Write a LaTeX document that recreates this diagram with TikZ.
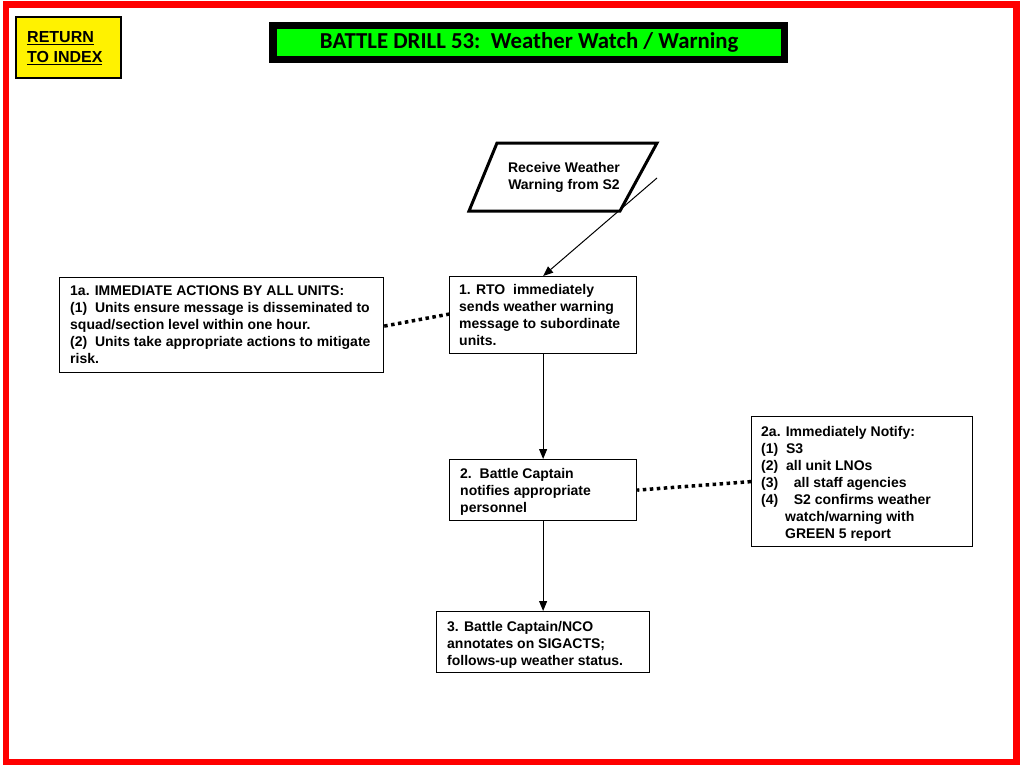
\documentclass[tikz,border=0pt]{standalone}
\usepackage{fontspec}
\setmainfont{Liberation Sans}
\newfontfamily\titlefont{Carlito}
\usetikzlibrary{arrows.meta}
\tikzset{
  box/.style={draw=black, line width=1.2pt, fill=white, inner sep=0pt, anchor=north west},
  txt/.style={anchor=north west, align=left, inner sep=0pt, font=\fontsize{14}{17}\selectfont\bfseries},
  flow/.style={draw=black, line width=1pt, -{Triangle[length=10pt,width=8pt]}},
  dots/.style={draw=black, line width=3.5pt, dash pattern=on 3.5pt off 3.5pt},
}
\begin{document}
\begin{tikzpicture}[x=1pt,y=-1pt]
\useasboundingbox (0,0) rectangle (1024,768);
\fill[white] (0,0) rectangle (1024,768);
% red frame
\draw[red, line width=6.5pt] (6,4.5) rectangle (1016.5,762);
% return box
\node[draw=black, line width=2pt, fill=yellow, minimum width=105pt, minimum height=61pt,
      anchor=north west, inner sep=0pt] (ret) at (15,16) {};
\node[anchor=west, align=left, font=\fontsize{16}{20}\selectfont\bfseries, inner sep=0pt]
  (rettxt) at (27,48.5) {\underline{RETURN}\\\underline{TO INDEX}};
% title
\node[fill=black, minimum width=519pt, minimum height=41pt, anchor=north west, inner sep=0pt]
  (titleback) at (269,22) {};
\node[fill=green, minimum width=504pt, minimum height=27pt, anchor=north west, inner sep=0pt,
      font=\titlefont\fontsize{22.8}{24}\selectfont\bfseries] (title) at (277,29)
  {BATTLE DRILL 53:\ \ Weather Watch / Warning};
% parallelogram
\draw[line width=3pt, line join=miter] (497,143) -- (657,143) -- (620,211) -- (469,211) -- cycle;
\node[align=center, font=\fontsize{14}{17}\selectfont\bfseries, inner sep=0pt] (recv) at (564,177)
  {Receive Weather\\Warning from S2};
\coordinate (recvout) at (657,178);
% box 1
\node[box, minimum width=187pt, minimum height=77pt] (b1) at (449,276) {};
\node[txt] (b1t) at (459,284.5) {1. RTO\ \ immediately\\sends weather warning\\message to subordinate\\units.};
% box 1a
\node[box, minimum width=324pt, minimum height=95pt] (b1a) at (59,277) {};
\node[txt] (b1at) at (70,285.5) {1a. IMMEDIATE ACTIONS BY ALL UNITS:\\(1)\ \ Units ensure message is disseminated to\\squad/section level within one hour.\\(2)\ \ Units take appropriate actions to mitigate\\risk.};
% box 2
\node[box, minimum width=187pt, minimum height=61pt] (b2) at (449,459) {};
\node[txt] (b2t) at (460,468.5) {2.\ \ Battle Captain\\notifies appropriate\\personnel};
% box 2a
\node[box, minimum width=221pt, minimum height=130pt] (b2a) at (751,416) {};
\node[txt] (b2at) at (761,426.5) {2a. Immediately Notify:\\(1)\ \ S3\\(2)\ \ all unit LNOs\\(3)\ \ \ \ all staff agencies\\(4)\ \ \ \ S2 confirms weather\\\hspace*{24pt}watch/warning with\\\hspace*{24pt}GREEN 5 report};
% box 3
\node[box, minimum width=213pt, minimum height=61pt] (b3) at (436,611) {};
\node[txt] (b3t) at (447,621) {3. Battle Captain/NCO\\annotates on SIGACTS;\\follows-up weather status.};
% connectors
\draw[flow] (recvout) -- (b1.north);
\draw[flow] (b1.south) -- (b2.north);
\draw[flow] (b2.south) -- (b3.north);
\draw[dots] ([yshift=-1pt]b1a.east) -- ([yshift=1pt]b1.west);
\draw[dots] (b2a.west) -- (b2.east);
\end{tikzpicture}
\end{document}
